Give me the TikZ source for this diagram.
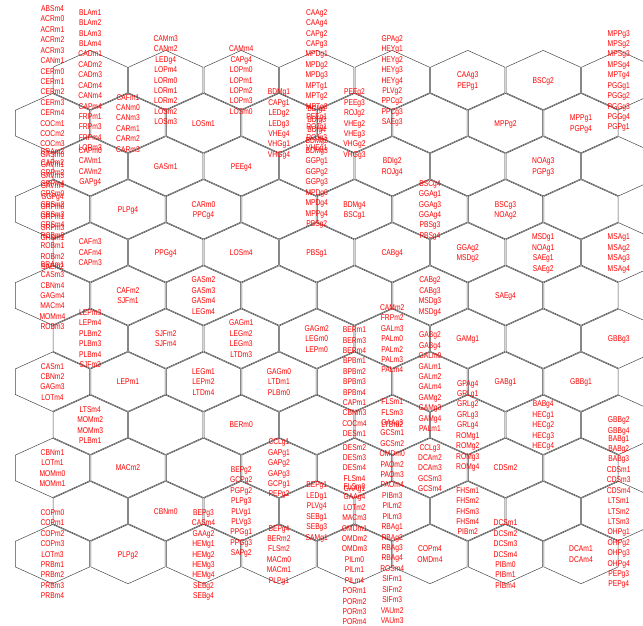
\documentclass[tikz,border=0pt]{standalone}
\usepackage{fontspec}
\newfontfamily\labfont[FakeStretch=0.8]{Liberation Sans}
\tikzset{
  hexline/.style={draw=black!72, line width=0.5pt, line join=miter},
  lab/.style={font=\labfont\fontsize{8.4}{9}\selectfont, text=red, inner sep=0pt,
              text height=6pt, text depth=0pt, anchor=center},
}
\newcommand\hexlab[3]{%
  \pgfmathsetmacro\hx{52.5+75.5*(#2-1)+(mod(#1,2)==1 ? 37.75 : 0)}%
  \pgfmathsetmacro\hy{80+43.1*(#1-1)}%
  \gdef\nlab{0}%
  \foreach \lbl in {#3} {\xdef\nlab{\the\numexpr\nlab+1\relax}}%
  \foreach \lbl [count=\kk] in {#3} {\node[lab, name=L#1-#2-\kk] at (\hx,{\hy+(\kk-(\nlab+1)/2)*10.42}) {\lbl};}%
}
\begin{document}
\begin{tikzpicture}[x=1pt,y=-1pt]
\useasboundingbox (0,0) rectangle (643,625);
\clip (0,0) rectangle (643,625);
% hexagonal grid
\foreach \r in {1,...,12}{
  \foreach \c in {1,...,8}{
    \pgfmathsetmacro\gx{52.5+75.5*(\c-1)+(mod(\r,2)==1 ? 37.75 : 0)}
    \pgfmathsetmacro\gy{80+43.1*(\r-1)}
    \draw[hexline] (\gx,\gy-29.65) -- (\gx+37.18,\gy-12.8) -- (\gx+37.18,\gy+12.8)
      -- (\gx,\gy+29.65) -- (\gx-37.18,\gy+12.8) -- (\gx-37.18,\gy-12.8) -- cycle;
  }
}
% row 1
\hexlab{1}{1}{BLAm1,BLAm2,BLAm3,BLAm4,CADm1,CADm2,CADm3,CADm4,CANm4,CAPm4,FRPm1,FRPm3,FRPm4,LORm3}
\hexlab{1}{2}{CAMm3,CANm2,LEDg4,LOPm4,LORm0,LORm1,LORm2,LOSm2,LOSm3}
\hexlab{1}{3}{CAMm4,CAPg4,LOPm0,LOPm1,LOPm2,LOPm3,LOSm0}
\hexlab{1}{4}{CAAg2,CAAg4,CAPg2,CAPg3,MPDg1,MPDg2,MPDg3,MPTg1,MPTg2,MPTg3,PEEg1,ROJg1,ROJg3,VHEg1}
\hexlab{1}{5}{GPAg2,HEYg1,HEYg2,HEYg3,HEYg4,PLVg2,PPCg2,PPCg3,SAEg3}
\hexlab{1}{6}{CAAg3,PEPg1}
\hexlab{1}{7}{BSCg2}
\hexlab{1}{8}{MPPg3,MPSg2,MPSg3,MPSg4,MPTg4,PGGg1,PGGg2,PGGg3,PGGg4,PGPg1}
% row 2
\hexlab{2}{1}{ABSm4,ACRm0,ACRm1,ACRm2,ACRm3,CANm1,CERm0,CERm1,CERm2,CERm3,CERm4,COCm1,COCm2,COCm3,GASm0,GAVm1,GAVm3,GAVm4,GGPg4,GRPm0,GRPm1,GRPm3,GRSm1}
\hexlab{2}{2}{CAFm1,CANm0,CANm3,CARm1,CARm2,CARm3}
\hexlab{2}{3}{LOSm1}
\hexlab{2}{4}{BDMg1,CAPg1,LEDg2,LEDg3,VHEg4,VHGg1,VHGg4}
\hexlab{2}{5}{PEEg2,PEEg3,ROJg2,VHEg2,VHEg3,VHGg2,VHGg3}
\hexlab{2}{7}{MPPg2}
\hexlab{2}{8}{MPPg1,PGPg4}
% row 3
\hexlab{3}{1}{CAPm0,CAVm1,CAVm2,GAPg4}
\hexlab{3}{2}{GASm1}
\hexlab{3}{3}{PEEg4}
\hexlab{3}{4}{BDIg1,BDIg3,BDIg4,BDMg2,BDMg3,GGPg1,GGPg2,GGPg3,MPDg0,MPDg4,MPPg4,PBSg2}
\hexlab{3}{5}{BDIg2,ROJg4}
\hexlab{3}{7}{NOAg3,PGPg3}
% row 4
\hexlab{4}{1}{BRAm2,CAPm2,GRPm2,GRPm4,GRSm0,GRSm2,GRSm3,GRSm4,ROBm0,ROBm1,ROBm2,SAEm2}
\hexlab{4}{2}{PLPg4}
\hexlab{4}{3}{CARm0,PPCg4}
\hexlab{4}{5}{BDMg4,BSCg1}
\hexlab{4}{6}{BSCg4,GGAg1,GGAg3,GGAg4,PBSg3,PBSg4}
\hexlab{4}{7}{BSCg3,NOAg2}
% row 5
\hexlab{5}{1}{CAFm3,CAFm4,CAPm3}
\hexlab{5}{2}{PPGg4}
\hexlab{5}{3}{LOSm4}
\hexlab{5}{4}{PBSg1}
\hexlab{5}{5}{CABg4}
\hexlab{5}{6}{GGAg2,MSDg2}
\hexlab{5}{7}{MSDg1,NOAg1,SAEg1,SAEg2}
\hexlab{5}{8}{MSAg1,MSAg2,MSAg3,MSAg4}
% row 6
\hexlab{6}{1}{BRAm1,CASm3,CBNm4,GAGm4,MACm4,MOMm4,ROBm3}
\hexlab{6}{2}{CAFm2,SJFm1}
\hexlab{6}{3}{GASm2,GASm3,GASm4,LEGm4}
\hexlab{6}{6}{CABg2,CABg3,MSDg3,MSDg4}
\hexlab{6}{7}{SAEg4}
% row 7
\hexlab{7}{1}{LEPm3,LEPm4,PLBm2,PLBm3,PLBm4,SJFm3}
\hexlab{7}{2}{SJFm2,SJFm4}
\hexlab{7}{3}{GAGm1,LEGm2,LEGm3,LTDm3}
\hexlab{7}{4}{GAGm2,LEGm0,LEPm0}
\hexlab{7}{5}{CAMm2,FRPm2,GALm3,PALm0,PALm2,PALm3,PALm4}
\hexlab{7}{6}{GAMg1}
\hexlab{7}{8}{GBBg3}
% row 8
\hexlab{8}{1}{CASm1,CBNm2,GAGm3,LOTm4}
\hexlab{8}{2}{LEPm1}
\hexlab{8}{3}{LEGm1,LEPm2,LTDm4}
\hexlab{8}{4}{GAGm0,LTDm1,PLBm0}
\hexlab{8}{5}{BERm1,BERm3,BERm4,BPBm1,BPBm2,BPBm3,BPBm4,CAPm1,CBNm3,COCm4,DESm1}
\hexlab{8}{6}{GABg2,GABg4,GALm0,GALm1,GALm2,GALm4,GAMg2,GAMg3,GAMg4,PALm1}
\hexlab{8}{7}{GABg1}
\hexlab{8}{8}{GBBg1}
% row 9
\hexlab{9}{1}{LTSm4,MOMm2,MOMm3,PLBm1}
\hexlab{9}{3}{BERm0}
\hexlab{9}{5}{LTDm2}
\hexlab{9}{6}{GPAg4,GRLg1,GRLg2,GRLg3,GRLg4,ROMg1,ROMg2,ROMg3,ROMg4}
\hexlab{9}{7}{BABg4,HECg1,HECg2,HECg3,HECg4}
\hexlab{9}{8}{GBBg2,GBBg4}
% row 10
\hexlab{10}{1}{CBNm1,LOTm1,MOMm0,MOMm1}
\hexlab{10}{2}{MACm2}
\hexlab{10}{4}{CCLg1,GAPg1,GAPg2,GAPg3,GCPg1,PEPg2}
\hexlab{10}{5}{DESm2,DESm3,DESm4,FLSm4,GAAg1}
\hexlab{10}{6}{CCLg3,DCAm2,DCAm3,GCSm3,GCSm4}
\hexlab{10}{7}{CDSm2}
% row 11
\hexlab{11}{2}{CBNm0}
\hexlab{11}{3}{BEPg2,GCPg2,PGPg2,PLPg3,PLVg1,PLVg3,PPGg1,PPGg3,SAPg2}
\hexlab{11}{4}{BEPg1,LEDg1,PLVg4,SEBg1,SEBg3,SAMg1}
\hexlab{11}{5}{FLSm1,FLSm3,GAAg3,GCSm1,GCSm2,OMDm0,PAOm2,PAOm3,PAOm4,PIBm3,PILm2,PILm3,RBAg1,RBAg2,RBAg3,RBAg4,ROSm4,SIFm1,SIFm2,SIFm3,VAUm2,VAUm3}
\hexlab{11}{6}{FHSm1,FHSm2,FHSm3,FHSm4,PIBm2}
\hexlab{11}{8}{BABg1,BABg2,BABg3,CDSm1,CDSm3,CDSm4,LTSm1,LTSm2,LTSm3,OHPg1,OHPg2,OHPg3,OHPg4,PEPg3,PEPg4}
% row 12
\hexlab{12}{1}{COPm0,COPm1,COPm2,COPm3,LOTm3,PRBm1,PRBm2,PRBm3,PRBm4}
\hexlab{12}{2}{PLPg2}
\hexlab{12}{3}{BEPg3,CASm4,GAAg2,HEMg1,HEMg2,HEMg3,HEMg4,SEBg2,SEBg4}
\hexlab{12}{4}{BEPg4,BERm2,FLSm2,MACm0,MACm1,PLPg1}
\hexlab{12}{5}{FLSm0,GAAg4,LOTm2,MACm3,OMDm1,OMDm2,OMDm3,PILm0,PILm1,PILm4,PORm1,PORm2,PORm3,PORm4}
\hexlab{12}{6}{COPm4,OMDm4}
\hexlab{12}{7}{DCSm1,DCSm2,DCSm3,DCSm4,PIBm0,PIBm1,PIBm4}
\hexlab{12}{8}{DCAm1,DCAm4}
\end{tikzpicture}
\end{document}
